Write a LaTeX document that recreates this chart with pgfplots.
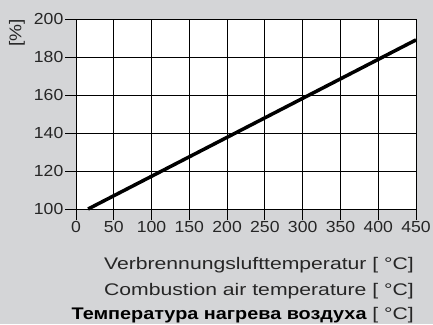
\documentclass[border=0pt]{standalone}
\usepackage{pgfplots}
\pgfplotsset{compat=1.18}
\usepackage{fontspec}
\setmainfont{Liberation Sans}
\newfontfamily\wide[FakeStretch=1.26]{Liberation Sans}
\newfontfamily\bwide[FakeStretch=1.18]{Liberation Sans}
\newfontfamily\twide[FakeStretch=1.1]{Liberation Sans}
\newfontfamily\rwide[FakeStretch=1.12]{Liberation Sans}
\definecolor{bg}{RGB}{212,213,215}
\begin{document}
\begin{tikzpicture}[x=1bp,y=1bp]
\fill[bg] (0,0) rectangle (433,324);
\begin{axis}[
  at={(76bp,115bp)}, anchor=south west,
  scale only axis, width=340bp, height=190bp,
  xmin=0, xmax=450, ymin=100, ymax=200,
  xtick={0,50,...,450}, ytick={100,120,...,200},
  grid=major, grid style={black, line width=0.9pt},
  axis line style={black, line width=0.9pt},
  axis background/.style={fill=white},
  tick align=outside, major tick length=11bp,
  tick style={black, line width=0.9pt},
  axis lines*=left,
  /pgf/number format/assume math mode=true,
  ticklabel style={font=\twide\fontsize{16bp}{18bp}\selectfont, text=black!85, inner sep=1.5bp},
  clip=false,
]
\addplot[black, line width=3.5bp] coordinates {(16,100) (450,189)};
\end{axis}
\node[rotate=90, font=\rwide\fontsize{17bp}{19bp}\selectfont, text=black!85] at (17,291) {[\%]};
\node[anchor=base east, font=\wide\fontsize{16.8bp}{18bp}\selectfont, text=black!85, inner sep=0pt] at (414,55) {Verbrennungslufttemperatur [ °C]};
\node[anchor=base east, font=\wide\fontsize{16.8bp}{18bp}\selectfont, text=black!85, inner sep=0pt] at (414,29) {Combustion air temperature [ °C]};
\node[anchor=base east, font=\wide\fontsize{16.8bp}{18bp}\selectfont, text=black, inner sep=0pt] at (414,5) {{\bwide\fontsize{16.8bp}{18bp}\selectfont\bfseries Температура нагрева воздуха} {\color{black!85}[ °C]}};
\end{tikzpicture}
\end{document}
